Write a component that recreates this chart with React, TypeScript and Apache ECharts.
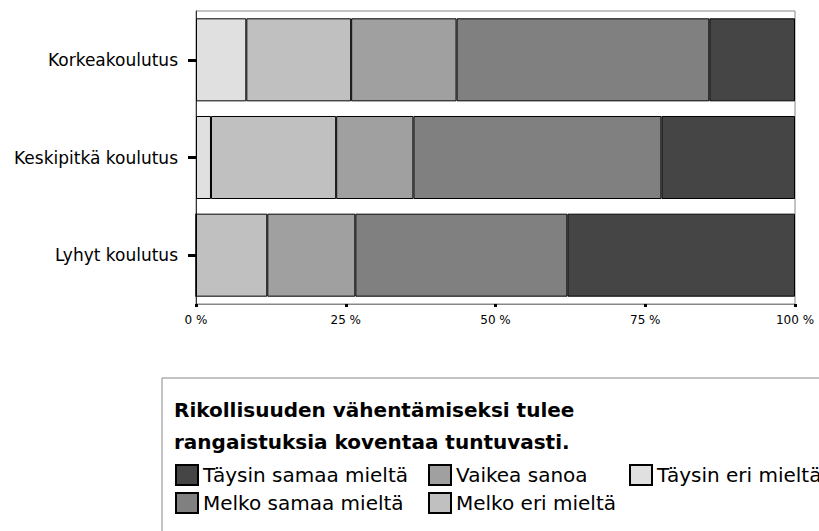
import React, { useEffect, useRef } from "react";
import * as echarts from "echarts";

const categories = ["Korkeakoulutus", "Keskipitkä koulutus", "Lyhyt koulutus"];
const seriesNames = [
  "Täysin eri mieltä",
  "Melko eri mieltä",
  "Vaikea sanoa",
  "Melko samaa mieltä",
  "Täysin samaa mieltä",
];
const taysinEri = [8.4, 2.5, 0];
const melkoEri = [17.5, 20.9, 11.9];
const vaikea = [17.6, 12.9, 14.7];
const melkoSamaa = [42.2, 41.4, 35.4];
const taysinSamaa = [14.3, 22.3, 38.0];
const xTicks = [0, 25, 50, 75, 100];
const titleLines = ["Rikollisuuden vähentämiseksi tulee", "rangaistuksia koventaa tuntuvasti."];

const colors = ["#e0e0e0", "#c0c0c0", "#a0a0a0", "#808080", "#454545"];
const values = [taysinEri, melkoEri, vaikea, melkoSamaa, taysinSamaa];

export default function App() {
  const ref = useRef<HTMLDivElement>(null);
  useEffect(() => {
    if (!ref.current) return;
    const chart = echarts.init(ref.current, undefined, { renderer: "svg" });
    const font = "DejaVu Sans";
    const legendCommon = {
      orient: "vertical",
      top: 464,
      itemWidth: 22,
      itemHeight: 20,
      itemGap: 6,
      padding: 0,
      icon: "rect",
      textStyle: { fontFamily: font, fontSize: 20, color: "#000" },
      selectedMode: false,
    };
    chart.setOption({
      animation: false,
      backgroundColor: "#fff",
      grid: {
        left: 196,
        right: 24,
        top: 11,
        bottom: 227,
        show: true,
        borderColor: "#888",
        borderWidth: 1,
        containLabel: false,
      },
      xAxis: {
        type: "value",
        min: xTicks[0],
        max: xTicks[xTicks.length - 1],
        interval: 25,
        axisLine: { show: true, lineStyle: { color: "#888", width: 1 } },
        axisTick: { show: true, length: 3, lineStyle: { color: "#000", width: 3 } },
        splitLine: { show: false },
        axisLabel: {
          formatter: "{value} %",
          fontFamily: font,
          fontSize: 12,
          color: "#000",
          margin: 10,
        },
      },
      yAxis: {
        type: "category",
        data: categories,
        inverse: true,
        axisLine: { show: true, lineStyle: { color: "#333", width: 1 } },
        axisTick: { show: true, alignWithLabel: true, length: 8, lineStyle: { color: "#000", width: 3 } },
        axisLabel: { fontFamily: font, fontSize: 17, color: "#000", margin: 18 },
      },
      legend: [
        { ...legendCommon, left: 175, data: ["Täysin samaa mieltä", "Melko samaa mieltä"] },
        { ...legendCommon, left: 428, data: ["Vaikea sanoa", "Melko eri mieltä"] },
        { ...legendCommon, left: 629, data: ["Täysin eri mieltä"] },
      ],
      graphic: [
        {
          type: "rect",
          z: 0,
          shape: { x: 162, y: 378, width: 700, height: 200 },
          style: { fill: "#fff", stroke: "#888", lineWidth: 1 },
        },
        {
          type: "text",
          z: 10,
          x: 174,
          y: 394,
          style: {
            text: titleLines.join("\n"),
            fontFamily: font,
            fontWeight: "bold",
            fontSize: 20,
            lineHeight: 32,
            fill: "#000",
            verticalAlign: "top",
          },
        },
      ],
      series: seriesNames.map((name, i) => ({
        name,
        type: "bar",
        stack: "total",
        barCategoryGap: "15%",
        data: values[i],
        itemStyle: { color: colors[i], borderColor: "#000", borderWidth: 1 },
        emphasis: { disabled: true },
      })),
    });
    return () => chart.dispose();
  }, []);
  return (
    <div
      ref={ref}
      style={{ position: "fixed", left: 0, top: 0, width: 819, height: 531 }}
    />
  );
}
